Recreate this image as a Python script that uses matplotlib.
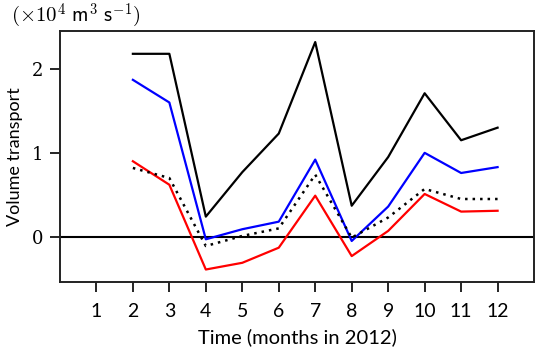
import numpy as np
import matplotlib.pyplot as plt

plt.rcParams['font.family'] = ['Lato', 'DejaVu Sans']
plt.rcParams['mathtext.fontset'] = 'cm'

months = [2, 3, 4, 5, 6, 7, 8, 9, 10, 11, 12]
total = [2.18, 2.18, 0.24, 0.77, 1.23, 2.32, 0.37, 0.95, 1.71, 1.15, 1.30]
blue_series = [1.87, 1.60, -0.03, 0.09, 0.18, 0.92, -0.05, 0.36, 1.00, 0.76, 0.83]
red_series = [0.90, 0.62, -0.39, -0.31, -0.13, 0.49, -0.23, 0.07, 0.51, 0.30, 0.31]
dotted_series = [0.82, 0.70, -0.11, 0.01, 0.10, 0.74, -0.01, 0.23, 0.57, 0.45, 0.45]
xticks = list(range(1, 13))
yticks = [0, 1, 2]


def main():
    fig = plt.figure(figsize=(5.4, 3.5), dpi=100)
    ax = fig.add_axes([0.111, 0.194, 0.878, 0.717])

    ax.axhline(0, color='black', lw=1.5)
    ax.plot(months, total, color='black', lw=1.6)
    ax.plot(months, blue_series, color='blue', lw=1.6)
    ax.plot(months, red_series, color='red', lw=1.6)
    ax.plot(months, dotted_series, color='black', lw=1.8, ls=(0, (1, 2)))

    ax.set_xlim(0, 13)
    ax.set_ylim(-0.54, 2.45)
    ax.set_xticks(xticks)
    ax.set_yticks(yticks)
    ax.tick_params(length=7, width=1.2)
    ax.tick_params(axis='x', labelsize=14, pad=8)
    ax.tick_params(axis='y', labelsize=14, pad=5)
    for lab in ax.get_yticklabels():
        lab.set_fontfamily('DejaVu Serif')
        lab.set_fontsize(13)
    for s in ax.spines.values():
        s.set_linewidth(1.4)
        s.set_color('#222222')

    ax.set_xlabel('Time (months in 2012)', fontsize=14.5, labelpad=6)
    ax.set_ylabel('Volume transport', fontsize=13, labelpad=6)
    fig.text(0.02, 0.995, r'$(\times10^4\ \mathsf{m}^3\ \mathsf{s}^{-1})$',
             fontsize=15, ha='left', va='top')

    fig.savefig('out.png', dpi=100)


if __name__ == "__main__":
    main()
